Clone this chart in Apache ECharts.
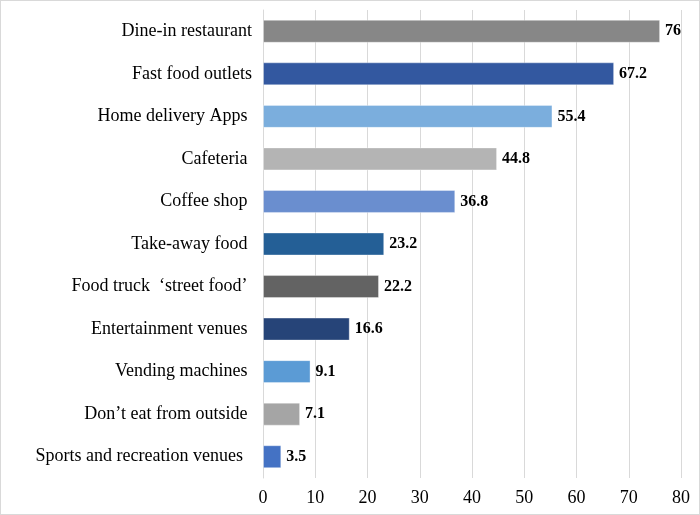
<!DOCTYPE html>
<html>
<head>
<meta charset="utf-8">
<script src="https://cdn.jsdelivr.net/npm/echarts@6/dist/echarts.min.js"></script>
<style>html,body{margin:0;padding:0;background:#fff}#wrap{width:700px;height:515px;box-sizing:border-box;border:1px solid #d9d9d9}#c{width:698px;height:513px}</style>
</head>
<body>
<div id="wrap"><div id="c"></div></div>
<script>
const categories = [
  "Dine-in restaurant",
  "Fast food outlets",
  "Home delivery Apps ",
  "Cafeteria ",
  "Coffee shop ",
  "Take-away food ",
  "Food truck  \u2018street food\u2019 ",
  "Entertainment venues ",
  "Vending machines ",
  "Don\u2019t eat from outside ",
  "Sports and recreation venues  "
];
const values = [76, 67.2, 55.4, 44.8, 36.8, 23.2, 22.2, 16.6, 9.1, 7.1, 3.5];
const barColors = ["#878787", "#3358A0", "#7BAEDD", "#B4B4B4", "#6A8ECF", "#245F96", "#636363", "#264478", "#5B9BD5", "#A5A5A5", "#4472C4"];
const xTicks = [0, 10, 20, 30, 40, 50, 60, 70, 80];

const font = "'Liberation Serif', 'Times New Roman', serif";
const chart = echarts.init(document.getElementById('c'), null, {renderer: 'canvas'});
chart.setOption({
  animation: false,
  grid: {left: 262, right: 18, top: 9, bottom: 36},
  xAxis: {
    type: 'value', min: xTicks[0], max: xTicks[xTicks.length - 1], interval: 10,
    axisLine: {show: false}, axisTick: {show: false},
    splitLine: {show: true, lineStyle: {color: '#d9d9d9', width: 1}},
    axisLabel: {color: '#000', fontFamily: font, fontSize: 18, margin: 11}
  },
  yAxis: {
    type: 'category', data: categories, inverse: true,
    axisLine: {show: true, lineStyle: {color: '#d9d9d9'}},
    axisTick: {show: false},
    axisLabel: {color: '#000', fontFamily: font, fontSize: 18, margin: 11}
  },
  series: [{
    type: 'bar',
    data: values.map((v, i) => ({value: v, itemStyle: {color: barColors[i]}})),
    barCategoryGap: '46%',
    itemStyle: {borderColor: 'rgba(255,255,255,0.35)', borderWidth: 1},
    label: {
      show: true, position: 'right', distance: 5,
      color: '#000', fontFamily: font, fontSize: 16, fontWeight: 'bold'
    }
  }]
});
</script>
</body>
</html>
